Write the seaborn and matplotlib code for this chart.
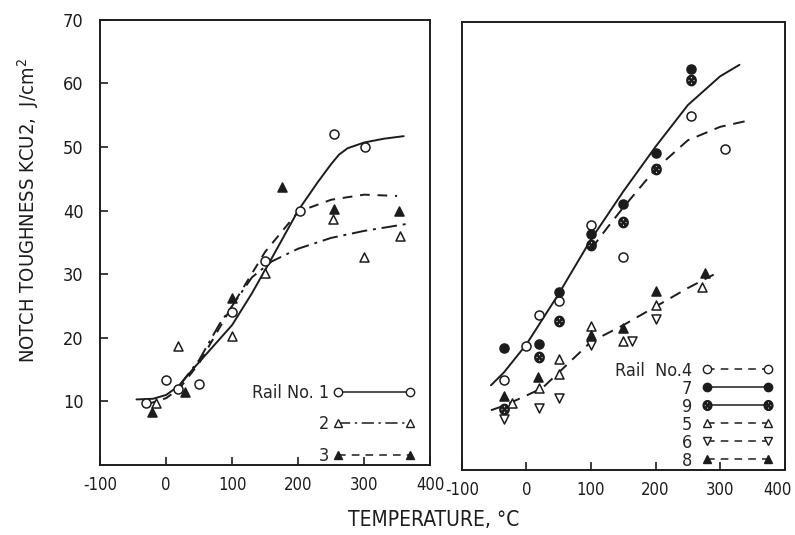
#!/usr/bin/env python3
"""
Notch toughness KCU2 of rails versus test temperature (two panels)
"""

import matplotlib
matplotlib.use("Agg")
import matplotlib.pyplot as plt
from matplotlib.lines import Line2D
from matplotlib.transforms import ScaledTranslation
import seaborn as sns
import pandas as pd

sns.set_style("ticks")
plt.rcParams['font.family'] = ['DejaVu Sans']
plt.rcParams['font.stretch'] = 'condensed'
plt.rcParams['axes.unicode_minus'] = False
plt.rcParams['axes.linewidth'] = 1.4

INK = '#1c1c1c'

# ---- left panel: rails 1-3 (measured points) ----
rail1_x = [-30, 0, 18, 50, 100, 150, 203, 255, 302]
rail1_y = [9.8, 13.4, 12.0, 12.8, 24.0, 32.0, 40.0, 52.0, 50.0]
rail2_x = [-15, 18, 100, 150, 253, 300, 355]
rail2_y = [9.8, 18.7, 20.2, 30.2, 38.7, 32.7, 36.0]
rail3_x = [-22, 28, 100, 175, 255, 353]
rail3_y = [8.3, 11.4, 26.3, 43.7, 40.3, 39.9]

# left panel fitted curves
fit1_x = [-45, -20, 0, 20, 40, 70, 100, 130, 160, 200, 230, 250, 262, 275, 300, 330, 360]
fit1_y = [10.3, 10.4, 11.0, 12.5, 15.0, 18.5, 22.0, 27.0, 32.5, 40.0, 44.5, 47.3, 48.8, 49.8, 50.7, 51.3, 51.7]
fit2_x = [20, 50, 80, 100, 130, 160, 200, 250, 300, 365]
fit2_y = [12.5, 16.5, 22.0, 25.0, 29.5, 32.0, 34.0, 35.7, 36.8, 37.9]
fit3_x = [-30, 0, 20, 50, 100, 150, 200, 250, 300, 350]
fit3_y = [9.5, 10.5, 12.0, 16.0, 25.0, 33.5, 39.8, 41.7, 42.5, 42.3]

# ---- right panel: rails 4-9 ----
rail4_x = [-35, 0, 20, 50, 100, 150, 255, 308]
rail4_y = [14.0, 19.4, 24.2, 26.3, 38.2, 33.2, 55.3, 50.2]
rail7_x = [-35, 20, 50, 100, 150, 200, 255]
rail7_y = [19.0, 19.6, 27.8, 36.8, 41.6, 49.5, 62.6]
rail9_x = [-35, 20, 50, 100, 150, 200, 255]
rail9_y = [9.5, 17.6, 23.2, 35.2, 38.8, 47.0, 61.0]
rail5_x = [-22, 20, 50, 50, 100, 150, 200, 272]
rail5_y = [10.4, 12.8, 15.0, 17.3, 22.5, 20.2, 25.8, 28.6]
rail6_x = [-35, 20, 50, 100, 163, 200]
rail6_y = [8.0, 9.6, 11.2, 19.5, 20.2, 23.6]
rail8_x = [-35, 18, 100, 150, 200, 277]
rail8_y = [11.6, 14.5, 21.0, 22.2, 27.9, 30.8]

fit79_x = [-55, -35, 0, 50, 100, 150, 200, 250, 300, 330]
fit79_y = [13.2, 15.2, 19.6, 27.5, 36.0, 43.5, 50.5, 57.0, 61.5, 63.3]
fit4_x = [100, 125, 150, 200, 250, 300, 340]
fit4_y = [34.5, 37.8, 41.0, 47.0, 51.5, 53.6, 54.5]
fit568_x = [-55, -35, 0, 25, 50, 100, 150, 200, 250, 290]
fit568_y = [9.3, 10.0, 11.6, 12.8, 15.2, 20.0, 22.6, 25.5, 28.4, 30.5]

x_ticks = [-100, 0, 100, 200, 300, 400]
y_ticks = [10, 20, 30, 40, 50, 60, 70]

DASH = (0, (5, 4))
DASHDOT = (0, (8, 3, 1.5, 3))
OTIMES = r'$\otimes$'


def draw_curve(ax, xs, ys, ls):
    df = pd.DataFrame({'x': xs, 'y': ys})
    sns.lineplot(data=df, x='x', y='y', ax=ax, color=INK, linewidth=1.4,
                 linestyle=ls, sort=False, estimator=None)


def draw_points(ax, xs, ys, marker, filled, size=6.5):
    df = pd.DataFrame({'x': xs, 'y': ys})
    if marker == OTIMES:
        ax.plot(df['x'], df['y'], linestyle='none', marker=marker,
                markersize=size + 1, color=INK, zorder=3)
        return
    sns.scatterplot(data=df, x='x', y='y', ax=ax, marker=marker, s=size ** 2,
                    facecolor=INK if filled else 'white', edgecolor=INK,
                    linewidth=1.1, zorder=3)


def handle(marker, filled, ls, size=6):
    if marker == OTIMES:
        return Line2D([], [], color=INK, linestyle=ls, linewidth=1.1,
                      marker=marker, markersize=size + 1)
    return Line2D([], [], color=INK, linestyle=ls, linewidth=1.1, marker=marker,
                  markersize=size, markerfacecolor=INK if filled else 'white',
                  markeredgecolor=INK, markeredgewidth=1.0)


def style_axes(ax, show_y):
    ax.set_xlim(-100, 400)
    ax.set_ylim(0, 70)
    ax.set_xticks(x_ticks)
    ax.set_yticks(y_ticks)
    ax.set_xlabel('')
    ax.set_ylabel('')
    ax.tick_params(axis='x', direction='in', length=6, width=1.2,
                   labelsize=12, pad=8, colors=INK)
    ax.tick_params(axis='y', direction='in', length=6, width=1.2,
                   labelsize=13, pad=12, colors=INK)
    if not show_y:
        ax.tick_params(axis='y', left=False, labelleft=False)
    for sp in ax.spines.values():
        sp.set_visible(True)
        sp.set_color(INK)


fig = plt.figure(figsize=(7.95, 5.35), dpi=100)
ax1 = fig.add_axes([0.126, 0.131, 0.415, 0.832])
ax2 = fig.add_axes([0.581, 0.122, 0.406, 0.837])

# left panel
draw_curve(ax1, fit1_x, fit1_y, '-')
draw_curve(ax1, fit2_x, fit2_y, DASHDOT)
draw_curve(ax1, fit3_x, fit3_y, DASH)
draw_points(ax1, rail1_x, rail1_y, 'o', False)
draw_points(ax1, rail2_x, rail2_y, '^', False)
draw_points(ax1, rail3_x, rail3_y, '^', True)
style_axes(ax1, True)

left_handles = [handle('o', False, '-'), handle('^', False, DASHDOT), handle('^', True, DASH)]
ax1.legend(left_handles, ['Rail No. 1', '2', '3'], loc='lower right',
           bbox_to_anchor=(0.955, 0.0), frameon=False, markerfirst=False,
           numpoints=2, handlelength=4.6, handletextpad=0.15, labelspacing=0.75,
           borderpad=0.0, borderaxespad=0.0, fontsize=13)

# right panel
draw_curve(ax2, fit79_x, fit79_y, '-')
draw_curve(ax2, fit4_x, fit4_y, (0, (6, 4)))
draw_curve(ax2, fit568_x, fit568_y, (0, (6, 4)))
draw_points(ax2, rail4_x, rail4_y, 'o', False)
draw_points(ax2, rail7_x, rail7_y, 'o', True)
draw_points(ax2, rail9_x, rail9_y, OTIMES, False)
draw_points(ax2, rail5_x, rail5_y, '^', False)
draw_points(ax2, rail6_x, rail6_y, 'v', False)
draw_points(ax2, rail8_x, rail8_y, '^', True)
style_axes(ax2, False)

# keep the last tick label of the right panel inside the picture
last = ax2.get_xticklabels()[-1]
last.set_transform(last.get_transform() + ScaledTranslation(-5 / 72, 0, fig.dpi_scale_trans))

right_handles = [handle('o', False, DASH), handle('o', True, '-'),
                 handle(OTIMES, False, '-'), handle('^', False, DASH),
                 handle('v', False, DASH), handle('^', True, DASH)]
ax2.legend(right_handles, ['Rail  No.4', '7', '9', '5', '6', '8'],
           loc='lower right', bbox_to_anchor=(0.965, 0.0), frameon=False,
           markerfirst=False, numpoints=2, handlelength=4.0, handletextpad=0.5,
           labelspacing=0.0, borderpad=0.0, borderaxespad=0.0, fontsize=13)

fig.text(0.035, 0.607, 'NOTCH TOUGHNESS KCU2,  J/cm$^2$', rotation=90,
         ha='center', va='center', fontsize=14.5, color=INK)
fig.text(0.545, 0.028, 'TEMPERATURE, °C', ha='center', va='center',
         fontsize=15, color=INK)

fig.savefig('out.png', dpi=100, facecolor='white')
